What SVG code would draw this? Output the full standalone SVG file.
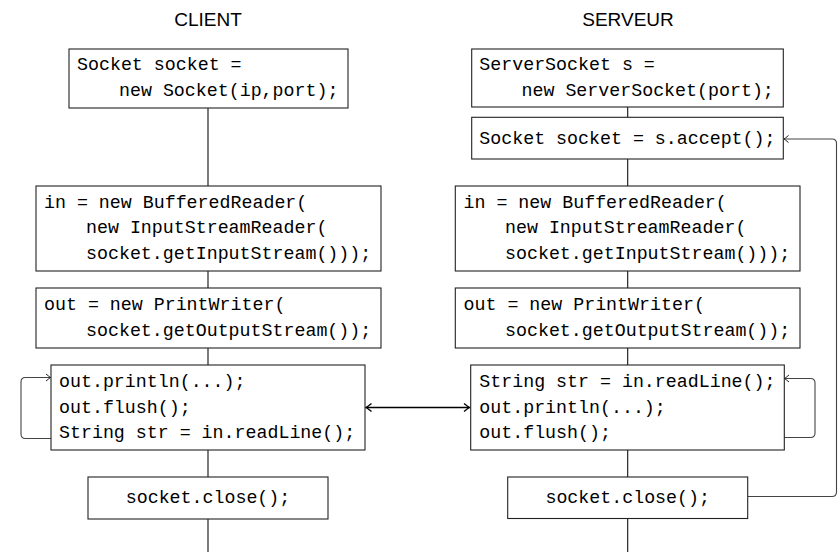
<svg xmlns="http://www.w3.org/2000/svg" width="840" height="552" viewBox="0 0 840 552">
<style>
.title{font-family:"Liberation Sans",Arial,sans-serif;font-size:19px;fill:#000;text-anchor:middle}
.code{font-family:"Liberation Mono","Courier New",monospace;font-size:18.3px;fill:#000}
.mid{text-anchor:middle}
.box{fill:#fff;stroke:#222;stroke-width:1.1}
.ln{fill:none;stroke:#111;stroke-width:1.1}
.loop{fill:none;stroke:#444;stroke-width:1.1}
.dbl{fill:none;stroke:#000;stroke-width:1.6}
</style>
<defs>
<marker id="ah" viewBox="-6 -5 7 10" markerWidth="7" markerHeight="10" refX="0" refY="0" orient="auto" markerUnits="userSpaceOnUse">
<path d="M-4.5,-3.5 Q-1,-0.6 0,0 Q-1,0.6 -4.5,3.5" fill="none" stroke="#222" stroke-width="1"/>
</marker>
<marker id="ah2" viewBox="-7 -6 8 12" markerWidth="8" markerHeight="12" refX="0" refY="0" orient="auto-start-reverse" markerUnits="userSpaceOnUse">
<path d="M-5.5,-4 Q-1.2,-0.7 0,0 Q-1.2,0.7 -5.5,4" fill="none" stroke="#000" stroke-width="1.4"/>
</marker>
</defs>

<text class="title" x="208" y="26">CLIENT</text>
<text class="title" x="628" y="26">SERVEUR</text>

<g id="connectors">
<path class="ln" d="M208,108V186M208,271V288M208,348V365M208,450V477M208,519V552"/>
<path class="ln" d="M627.7,107V117M627.7,159V186M627.7,271V288M627.7,348V365M627.7,450V477M627.7,518V552"/>
<path class="loop" d="M51,438.5H25.5Q21,438.5 21,434V382Q21,377.5 25.5,377.5H50.5" marker-end="url(#ah)"/>
<path class="loop" d="M784,437.5H810.5Q815,437.5 815,433V383Q815,378.5 810.5,378.5H784.5" marker-end="url(#ah)"/>
<path class="loop" d="M747.7,496.5H832Q836.5,496.5 836.5,492V143.5Q836.5,139 832,139H784" marker-end="url(#ah)"/>
<path class="dbl" d="M366,407.5H469.5" marker-start="url(#ah2)" marker-end="url(#ah2)"/>
</g>

<g id="c-socket">
<rect class="box" x="69" y="49" width="279" height="59"/>
<text class="code" x="77" y="70">Socket socket =</text>
<text class="code" x="119" y="95.5">new Socket(ip,port);</text>
</g>
<g id="c-in">
<rect class="box" x="36" y="186" width="345" height="85"/>
<text class="code" x="44" y="207.7">in = new BufferedReader(</text>
<text class="code" x="86" y="233.3">new InputStreamReader(</text>
<text class="code" x="86" y="259">socket.getInputStream()));</text>
</g>
<g id="c-out">
<rect class="box" x="36" y="288" width="345" height="60"/>
<text class="code" x="44" y="310">out = new PrintWriter(</text>
<text class="code" x="86" y="335.7">socket.getOutputStream());</text>
</g>
<g id="c-loop">
<rect class="box" x="51" y="365" width="314" height="85"/>
<text class="code" x="59" y="387">out.println(...);</text>
<text class="code" x="59" y="412.5">out.flush();</text>
<text class="code" x="59" y="438">String str = in.readLine();</text>
</g>
<g id="c-close">
<rect class="box" x="88" y="477" width="240" height="42"/>
<text class="code mid" x="208" y="503">socket.close();</text>
</g>

<g id="s-server">
<rect class="box" x="471.7" y="49" width="311.6" height="58"/>
<text class="code" x="479.3" y="70">ServerSocket s =</text>
<text class="code" x="521.5" y="95.5">new ServerSocket(port);</text>
</g>
<g id="s-accept">
<rect class="box" x="471.7" y="117.3" width="311.6" height="41.7"/>
<text class="code" x="479.3" y="143.5">Socket socket = s.accept();</text>
</g>
<g id="s-in">
<rect class="box" x="455.3" y="186" width="344.7" height="85"/>
<text class="code" x="463.5" y="207.7">in = new BufferedReader(</text>
<text class="code" x="505" y="233.3">new InputStreamReader(</text>
<text class="code" x="505" y="259">socket.getInputStream()));</text>
</g>
<g id="s-out">
<rect class="box" x="455.3" y="288" width="344.7" height="60"/>
<text class="code" x="463.5" y="310">out = new PrintWriter(</text>
<text class="code" x="505" y="335.7">socket.getOutputStream());</text>
</g>
<g id="s-loop">
<rect class="box" x="470.7" y="365" width="313.6" height="85"/>
<text class="code" x="479.3" y="387">String str = in.readLine();</text>
<text class="code" x="479.3" y="412.5">out.println(...);</text>
<text class="code" x="479.3" y="438">out.flush();</text>
</g>
<g id="s-close">
<rect class="box" x="507.7" y="477" width="240" height="41.5"/>
<text class="code mid" x="627.7" y="503">socket.close();</text>
</g>
</svg>
